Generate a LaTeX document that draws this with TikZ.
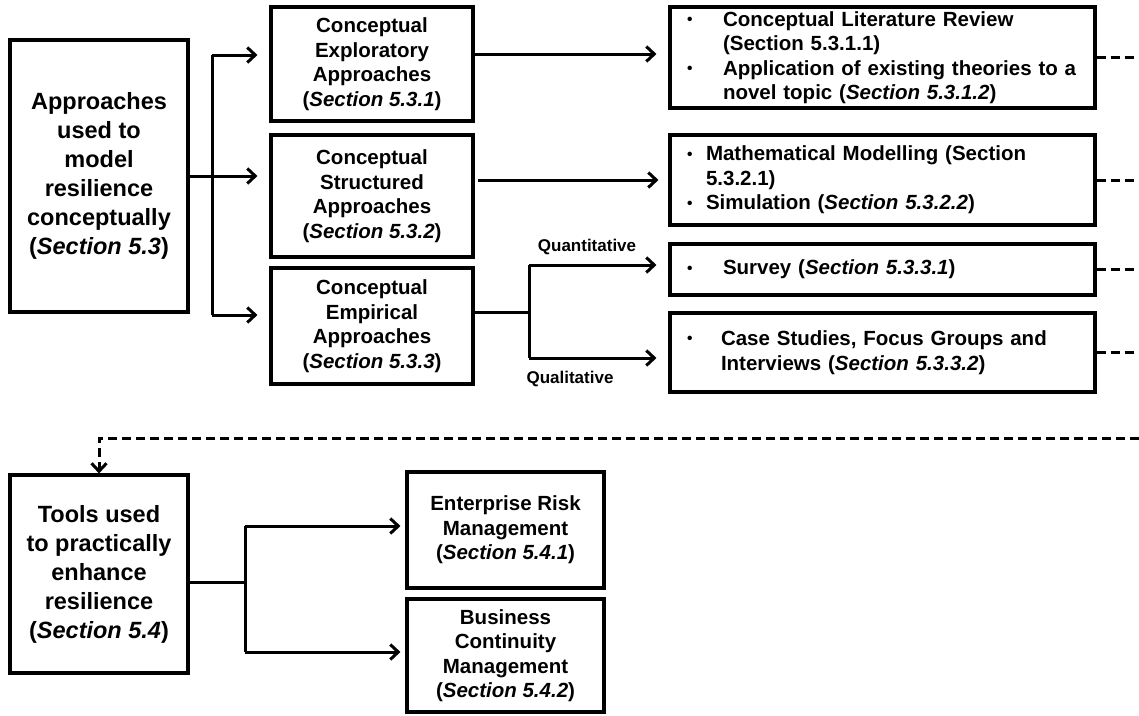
\documentclass[tikz,border=0pt]{standalone}
\usepackage{fontspec}
\setmainfont{Liberation Sans}
\usetikzlibrary{arrows.meta}
% italic section reference in brackets
\newcommand{\secref}[1]{(\textit{Section #1})}
% small bullet followed by a fixed indent
\newcommand{\bul}[1]{\makebox[#1][l]{\hspace{1pt}\raisebox{1.6pt}{\fontsize{15.5}{15.5}\selectfont\textbullet}}}
\begin{document}
\begin{tikzpicture}[x=1pt,y=-1pt,
  box/.style={draw, line width=3.1pt, align=center, inner sep=0pt,
    font=\bfseries\fontsize{20.5}{24.5}\selectfont},
  bigbox/.style={box, font=\bfseries\fontsize{23.5}{29}\selectfont},
  listbox/.style={draw, line width=3.1pt, align=left, inner xsep=16pt, inner ysep=0pt,
    text width=393pt, minimum width=425pt,
    font=\bfseries\fontsize{20.5}{24.5}\selectfont},
  lab/.style={font=\bfseries\fontsize{17}{20}\selectfont, inner sep=0pt},
  link/.style={line width=3pt},
  arr/.style={link, -{Straight Barb[length=8pt,width=15pt]}},
  dashlink/.style={link, dash pattern=on 9pt off 5pt},
]
\useasboundingbox (0,0) rectangle (1139,715);

% top-level boxes
\node[bigbox, minimum width=178pt, minimum height=272pt] (A) at (99,176)
  {Approaches\\used to\\model\\resilience\\conceptually\\\secref{5.3}};
\node[bigbox, minimum width=178pt, minimum height=198pt] (T) at (99,574)
  {Tools used\\to practically\\enhance\\resilience\\\secref{5.4}};

% conceptual approaches
\node[box, minimum width=202pt, minimum height=114pt] (m1) at (372,64)
  {Conceptual\\Exploratory\\Approaches\\\secref{5.3.1}};
\node[box, minimum width=202pt, minimum height=122pt] (m2) at (372,196)
  {Conceptual\\Structured\\Approaches\\\secref{5.3.2}};
\node[box, minimum width=202pt, minimum height=116pt] (m3) at (372,326)
  {Conceptual\\Empirical\\Approaches\\\secref{5.3.3}};

% methods
\node[listbox, minimum height=101pt] (r1) at (882.5,57.5)
  {\bul{37pt}Conceptual Literature Review\\
   \hspace*{37pt}(Section 5.3.1.1)\\
   \bul{37pt}Application of existing theories to a\\
   \hspace*{37pt}novel topic \secref{5.3.1.2}};
\node[listbox, minimum height=90pt] (r2) at (882.5,180)
  {\bul{20pt}Mathematical Modelling (Section\\
   \hspace*{20pt}5.3.2.1)\\
   \bul{20pt}Simulation \secref{5.3.2.2}};
\node[listbox, minimum height=51pt] (r3) at (882.5,269.5)
  {\bul{37pt}Survey \secref{5.3.3.1}};
\node[listbox, minimum height=79pt] (r4) at (882.5,352.5)
  {\bul{35pt}Case Studies, Focus Groups and\\
   \hspace*{35pt}Interviews \secref{5.3.3.2}};

% tools
\node[box, minimum width=197pt, minimum height=116pt] (erm) at (505.5,530)
  {Enterprise Risk\\Management\\\secref{5.4.1}};
\node[box, minimum width=197pt, minimum height=113pt] (bcm) at (505.5,655.5)
  {Business\\Continuity\\Management\\\secref{5.4.2}};

% branch labels
\node[lab] (qn) at (587,247) {Quantitative};
\node[lab] (ql) at (570,379) {Qualitative};

% branching from the approaches box
\coordinate (j1t) at (212,55);
\coordinate (j1b) at (212,315);
\draw[link] (j1t) -- (j1b);
\draw[arr, shorten >=12pt] (j1t) -- (j1t -| m1.west);
\draw[arr, shorten >=12pt] (A.east) -- (A.east -| m2.west);
\draw[arr, shorten >=12pt] (j1b) -- (j1b -| m3.west);

% approaches to methods
\draw[arr, shorten >=12pt] ([yshift=10pt]m1.east) -- ([yshift=10pt]m1.east -| r1.west);
\draw[arr, shorten <=3pt, shorten >=10pt] ([yshift=16pt]m2.east) -- ([yshift=16pt]m2.east -| r2.west);
\coordinate (j2) at (529,312);
\coordinate (j2t) at (529,265);
\coordinate (j2b) at (529,358);
\draw[link] ([yshift=14pt]m3.east) -- (j2);
\draw[link] (j2t) -- (j2b);
\draw[arr, shorten >=12pt] (j2t) -- (j2t -| r3.west);
\draw[arr, shorten >=12pt] (j2b) -- (j2b -| r4.west);

% dashed continuation to the tools section
\coordinate (edge) at (1139,0);
\coordinate (wrap) at (1139,438);
\draw[dashlink] (r1.east) -- (r1.east -| edge);
\draw[dashlink] (r2.east) -- (r2.east -| edge);
\draw[dashlink] (r3.east) -- (r3.east -| edge);
\draw[dashlink] (r4.east) -- (r4.east -| edge);
\draw[dashlink, -{Straight Barb[length=8pt,width=15pt]}] (wrap) -| (T.north);

% branching from the tools box
\coordinate (j3) at (245,582);
\coordinate (j3t) at (245,526);
\coordinate (j3b) at (245,652);
\draw[link] ([yshift=-8pt]T.east) -- (j3);
\draw[link] (j3t) -- (j3b);
\draw[arr, shorten >=5pt] (j3t) -- (j3t -| erm.west);
\draw[arr, shorten >=5pt] (j3b) -- (j3b -| bcm.west);
\end{tikzpicture}
\end{document}
